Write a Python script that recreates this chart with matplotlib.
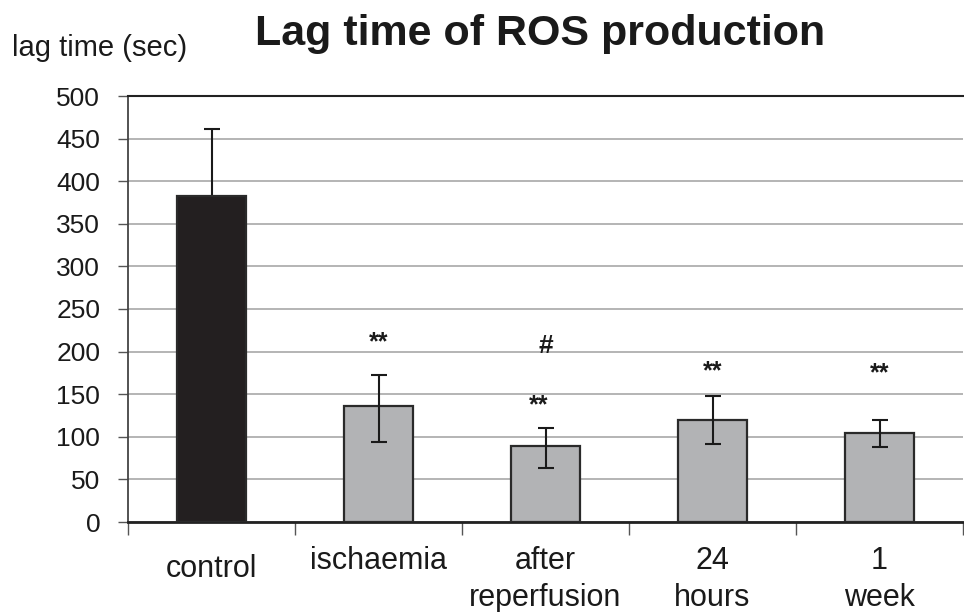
import matplotlib
matplotlib.use("Agg")
import matplotlib.pyplot as plt
import numpy as np

plt.rcParams['font.family'] = ['Liberation Sans', 'DejaVu Sans']

# ---- data ----
categories = ["control", "ischaemia", "after\nreperfusion", "24\nhours", "1\nweek"]
lag_time = [383, 136, 89, 120, 104]
err_lower = [78, 42, 26, 29, 16]
err_upper = [78, 37, 21, 28, 16]
star_labels = ["", "**", "**", "**", "**"]
star_y = [None, 219, 146, 186, 183]
hash_labels = ["", "", "#", "", ""]
hash_y = [None, None, 210, None, None]
yticks = [0, 50, 100, 150, 200, 250, 300, 350, 400, 450, 500]
title = "Lag time of ROS production"
ylabel = "lag time (sec)"

W, H = 964, 612
fig = plt.figure(figsize=(W / 100, H / 100), dpi=100)
ax = fig.add_axes([128 / W, 1 - 522 / H, (963 - 128) / W, (522 - 96) / H])

x = np.arange(len(categories))
colors = ['#231f20'] + ['#b2b3b5'] * (len(categories) - 1)
ax.bar(x, lag_time, width=0.41, color=colors, edgecolor='#2a2a2a',
       linewidth=1.6, zorder=3)
# the black control bar hides its own lower whisker; grey bars show it
for i in range(len(categories)):
    ax.errorbar(x[i], lag_time[i], yerr=[[err_lower[i]], [err_upper[i]]], fmt='none',
                ecolor='#1a1a1a', elinewidth=1.5, capsize=6, capthick=1.5,
                zorder=2.5 if i == 0 else 4)

ax.set_xlim(-0.5, len(categories) - 0.5)
ax.set_ylim(0, 500)
ax.set_yticks(yticks)
ax.set_yticklabels([str(v) for v in yticks])
ax.yaxis.grid(True, color='#a0a0a0', linewidth=1.1)
ax.set_axisbelow(True)

ax.set_xticks(x)
ax.set_xticklabels(categories, fontsize=22, linespacing=1.32, color='#1a1a1a')
ax.set_xticks(np.arange(-0.5, len(categories), 1.0), minor=True)
ax.tick_params(axis='x', which='major', length=0, pad=17)
ax.tick_params(axis='x', which='minor', length=9.5, width=1.0, color='#555555')
ax.tick_params(axis='y', length=7, width=1.0, color='#555555', pad=13,
               labelsize=19, labelcolor='#1a1a1a')
# control label sits a little lower
ax.xaxis.get_major_ticks()[0].set_pad(23)

ax.spines['right'].set_visible(False)
ax.spines['top'].set_color('#222222')
ax.spines['top'].set_linewidth(1.5)
ax.spines['left'].set_color('#444444')
ax.spines['left'].set_linewidth(1.3)
ax.spines['bottom'].set_color('#222222')
ax.spines['bottom'].set_linewidth(2.0)

for i, (lab, yv) in enumerate(zip(star_labels, star_y)):
    if lab and yv is not None:
        dx = -5 if i == 2 else 0
        ax.annotate(lab, xy=(i, yv), xytext=(dx, -10.3), textcoords='offset points',
                    ha='center', va='baseline', fontsize=18, fontweight='bold',
                    color='#1a1a1a', zorder=5)
for i, (lab, yv) in enumerate(zip(hash_labels, hash_y)):
    if lab and yv is not None:
        ax.annotate(lab, xy=(i, yv), xytext=(0, -6.8), textcoords='offset points',
                    ha='center', va='baseline', fontsize=19, fontweight='bold',
                    color='#1a1a1a', zorder=5)

fig.text(540 / W, 1 - 45 / H, title, fontsize=31, fontweight='bold',
         ha='center', va='baseline', color='#1a1a1a')
fig.text(12 / W, 1 - 56 / H, ylabel, fontsize=21, ha='left', va='baseline',
         color='#1a1a1a')

fig.savefig("out.png", dpi=100)
